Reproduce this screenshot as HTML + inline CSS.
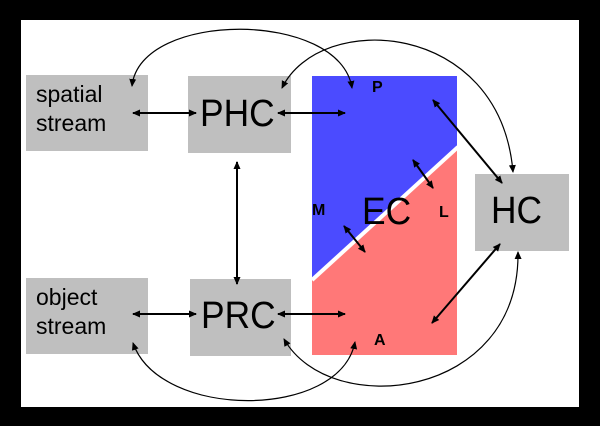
<!DOCTYPE html>
<html><head><style>
html,body{margin:0;padding:0;background:#000;}
.wrap{position:relative;width:600px;height:426px;background:#000;overflow:hidden;font-family:"Liberation Sans",sans-serif;}
.white{position:absolute;left:21px;top:20px;width:558px;height:387px;background:#fff;}
.box{position:absolute;background:#bfbfbf;}
.t{position:absolute;color:#000;}
.big{font-size:38px;line-height:44px;transform:scaleX(0.93);transform-origin:left top;}
</style></head><body>
<div class="wrap">
<div class="white"></div>
<div class="box" style="left:26px;top:75px;width:122px;height:76px"></div>
<div class="box" style="left:188px;top:76px;width:103px;height:77px"></div>
<div class="box" style="left:475px;top:174px;width:94px;height:77px"></div>
<div class="box" style="left:26px;top:278px;width:122px;height:76px"></div>
<div class="box" style="left:190px;top:279px;width:101px;height:77px"></div>
<svg style="position:absolute;left:0;top:0" width="600" height="426">
<defs><marker id="a" markerWidth="8" markerHeight="8" refX="7" refY="4" orient="auto-start-reverse" markerUnits="userSpaceOnUse"><path d="M0,0.5 L8,4 L0,7.5 z" fill="#000"/></marker></defs>
<polygon points="312,76 457,76 457,147 312,278" fill="#4b4bff"/>
<polygon points="457,147 457,355 312,355 312,278" fill="#ff7878"/>
<line x1="312" y1="280" x2="458" y2="147" stroke="#fff" stroke-width="4"/>
<g stroke="#000" stroke-width="2" fill="none" marker-start="url(#a)" marker-end="url(#a)">
<line x1="133" y1="113" x2="196" y2="113"/>
<line x1="278" y1="113" x2="345" y2="113"/>
<line x1="237" y1="162" x2="237" y2="284"/>
<line x1="133" y1="314" x2="196" y2="314"/>
<line x1="278" y1="314" x2="345" y2="314"/>
<line x1="433" y1="100" x2="502" y2="183"/>
<line x1="413" y1="160" x2="433" y2="188"/>
<line x1="344" y1="226" x2="365" y2="252"/>
<line x1="432" y1="323" x2="500" y2="244"/>
</g>
<g stroke="#000" stroke-width="1.2" fill="none" marker-start="url(#a)" marker-end="url(#a)">
<path d="M132,86 C140,10 340,10 352,88"/>
<path d="M282,88 C320,10 500,20 513,172"/>
<path d="M133,343 C160,420 340,420 355,342"/>
<path d="M284,339 C330,420 520,400 518,252"/>
</g>
</svg>
<div class="t" style="left:36px;top:80px;font-size:23px;line-height:29px">spatial<br>stream</div>
<div class="t big" style="left:200px;top:92px">PHC</div>
<div class="t" style="left:36px;top:283px;font-size:23px;line-height:29px">object<br>stream</div>
<div class="t big" style="left:201px;top:294px">PRC</div>
<div class="t big" style="left:491px;top:189px">HC</div>
<div class="t big" style="left:362px;top:190px">EC</div>
<div class="t" style="left:372px;top:79px;font-size:16px;font-weight:bold">P</div>
<div class="t" style="left:312px;top:202px;font-size:16px;font-weight:bold">M</div>
<div class="t" style="left:439px;top:204px;font-size:16px;font-weight:bold">L</div>
<div class="t" style="left:374px;top:332px;font-size:16px;font-weight:bold">A</div>
</div>
</body></html>
